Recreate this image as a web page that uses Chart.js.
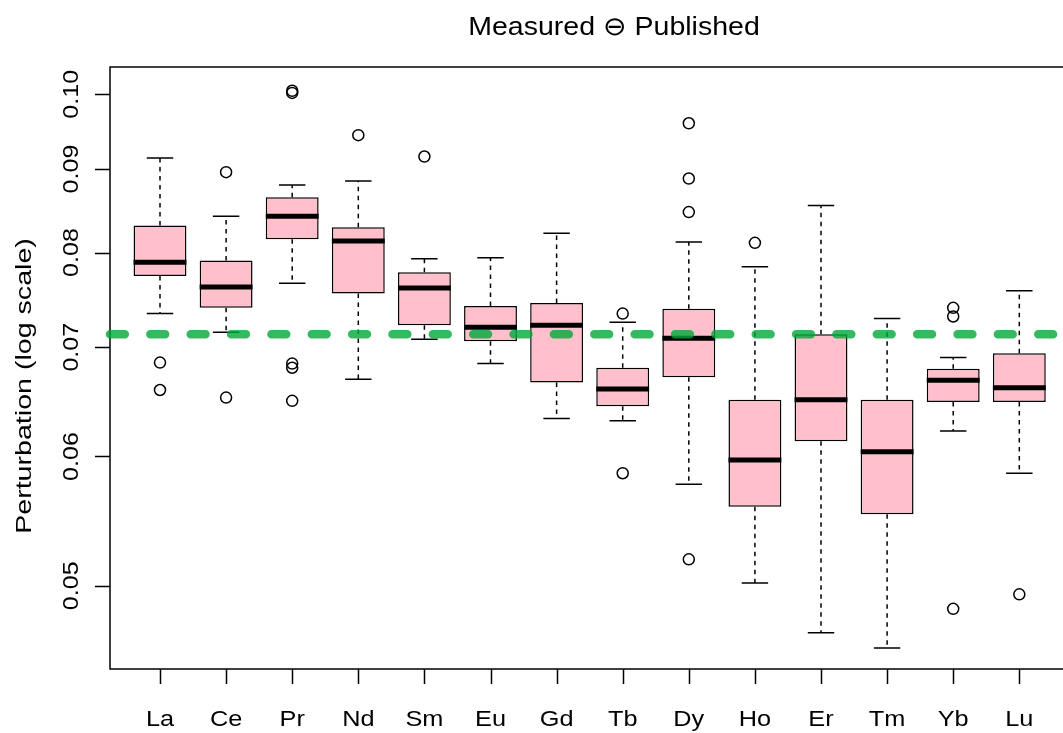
<!DOCTYPE html>
<html>
<head>
<meta charset="utf-8">
<script src="https://cdn.jsdelivr.net/npm/chart.js@4.4.1/dist/chart.umd.min.js"></script>
<style>
  html, body { margin: 0; padding: 0; background: #fff; overflow: hidden; }
  #wrap { width: 1063px; height: 733px; overflow: hidden; position: relative; background: #fff; }
  canvas { display: block; }
</style>
</head>
<body>
<div id="wrap"><canvas id="chart" width="1130" height="733" style="width:1130px;height:733px"></canvas></div>
<script>
// Rare earth elements on the x axis
const elements = ['La', 'Ce', 'Pr', 'Nd', 'Sm', 'Eu', 'Gd', 'Tb', 'Dy', 'Ho', 'Er', 'Tm', 'Yb', 'Lu'];

// Five-number summaries per element
const lowerWhisker = [0.0734, 0.0715, 0.0766, 0.0669, 0.0708, 0.0684, 0.0633, 0.0631, 0.0577, 0.0502, 0.0468, 0.0458, 0.0622, 0.0586];
const q1           = [0.0774, 0.0740, 0.0815, 0.0755, 0.0722, 0.0706, 0.0666, 0.0644, 0.0671, 0.0559, 0.0613, 0.0553, 0.0648, 0.0648];
const median       = [0.0789, 0.0762, 0.0842, 0.0813, 0.0761, 0.0720, 0.0722, 0.0660, 0.0709, 0.0597, 0.0650, 0.0604, 0.0668, 0.0661];
const q3           = [0.0831, 0.0791, 0.0865, 0.0829, 0.0778, 0.0742, 0.0745, 0.0680, 0.0739, 0.0650, 0.0713, 0.0650, 0.0679, 0.0694];
const upperWhisker = [0.0914, 0.0842, 0.0880, 0.0885, 0.0793, 0.0794, 0.0822, 0.0725, 0.0812, 0.0784, 0.0855, 0.0729, 0.0690, 0.0758];

// Points beyond the whiskers
const outliers = [
  [0.0685, 0.0659],
  [0.0896, 0.0652],
  [0.1005, 0.1002, 0.0684, 0.0680, 0.0649],
  [0.0944],
  [0.0916],
  [],
  [],
  [0.0734, 0.0586],
  [0.0960, 0.0888, 0.0847, 0.0519],
  [0.0811],
  [],
  [],
  [0.0740, 0.0731, 0.0484],
  [0.0494]
];

// Reference level
const refLevel = 0.0713;

// Axis ticks and texts
const yTicks = [0.05, 0.06, 0.07, 0.08, 0.09, 0.10];
const xRange = [-0.7564, 14.493];
const yRange = [0.04446, 0.10393];
const titleText = 'Measured \u2296 Published';
const yTitleText = 'Perturbation (log scale)';

const FONT = '"Liberation Sans", Arial, Helvetica, sans-serif';
const positions = elements.map((_, i) => i);

const boxData = positions.map(i => ({ x: i, y: [q1[i], q3[i]] }));
const outlierData = [];
outliers.forEach((vals, i) => vals.forEach(v => outlierData.push({ x: i, y: v })));
const refData = [{ x: xRange[0], y: refLevel }, { x: xRange[1], y: refLevel }];

// Writes text at (x, y), optionally rotated, widened along its reading direction
function drawText(ctx, text, x, y, size, widen, rotate) {
  ctx.save();
  ctx.translate(x, y);
  if (rotate) ctx.rotate(-Math.PI / 2);
  ctx.scale(widen, 1);
  ctx.font = size + 'px ' + FONT;
  ctx.fillText(text, 0, 0);
  ctx.restore();
}

// Frame, tick marks and texts in base-graphics style
const frameAxes = {
  id: 'frameAxes',
  beforeDatasetsDraw(chart) {
    const { ctx, chartArea: a, scales: { x, y } } = chart;
    ctx.save();
    ctx.strokeStyle = '#000';
    ctx.lineWidth = 1.5;
    ctx.strokeRect(a.left, a.top, a.right - a.left, a.bottom - a.top);
    ctx.beginPath();
    yTicks.forEach(v => {
      const py = Math.round(y.getPixelForValue(v)) + 0.5;
      ctx.moveTo(a.left - 15, py);
      ctx.lineTo(a.left, py);
    });
    positions.forEach(i => {
      const px = Math.round(x.getPixelForValue(i)) + 0.5;
      ctx.moveTo(px, a.bottom);
      ctx.lineTo(px, a.bottom + 15);
    });
    ctx.stroke();

    ctx.fillStyle = '#000';
    ctx.textAlign = 'center';
    ctx.textBaseline = 'alphabetic';
    elements.forEach((s, i) => drawText(ctx, s, x.getPixelForValue(i), 726, 22, 1.15, false));
    yTicks.forEach(v => drawText(ctx, v.toFixed(2), 77.5, y.getPixelForValue(v), 22, 1.14, true));
    drawText(ctx, yTitleText, 31, 386, 22, 1.3, true);
    drawText(ctx, titleText, (a.left + a.right) / 2, 35, 26.4, 1.08, false);
    ctx.restore();
  }
};

// Whiskers, caps and medians on top of the boxes
const whiskers = {
  id: 'whiskers',
  afterDatasetDraw(chart, args) {
    if (args.index !== 0) return;
    const { ctx, scales: { y } } = chart;
    ctx.save();
    ctx.strokeStyle = '#000';
    args.meta.data.forEach((bar, i) => {
      const cx = bar.x;
      const w = bar.width;
      const yUp = y.getPixelForValue(upperWhisker[i]);
      const yLo = y.getPixelForValue(lowerWhisker[i]);
      const yQ1 = y.getPixelForValue(q1[i]);
      const yQ3 = y.getPixelForValue(q3[i]);
      const yMed = y.getPixelForValue(median[i]);

      ctx.lineWidth = 1.5;
      ctx.setLineDash([4.5, 4.5]);
      ctx.beginPath();
      ctx.moveTo(cx, yQ3); ctx.lineTo(cx, yUp);
      ctx.moveTo(cx, yQ1); ctx.lineTo(cx, yLo);
      ctx.stroke();

      ctx.setLineDash([]);
      ctx.beginPath();
      ctx.moveTo(cx - w / 4, yUp); ctx.lineTo(cx + w / 4, yUp);
      ctx.moveTo(cx - w / 4, yLo); ctx.lineTo(cx + w / 4, yLo);
      ctx.stroke();

      ctx.lineWidth = 5;
      ctx.beginPath();
      ctx.moveTo(cx - w / 2, yMed); ctx.lineTo(cx + w / 2, yMed);
      ctx.stroke();
    });
    ctx.restore();
  }
};

new Chart(document.getElementById('chart'), {
  type: 'bar',
  data: {
    datasets: [
      {
        type: 'bar',
        data: boxData,
        backgroundColor: '#FFC0CB',
        borderColor: '#000',
        borderWidth: 1.5,
        borderSkipped: false,
        barPercentage: 0.8,
        categoryPercentage: 1.0,
        order: 3
      },
      {
        type: 'scatter',
        data: outlierData,
        pointStyle: 'circle',
        pointRadius: 5.5,
        pointBorderWidth: 1.5,
        pointBorderColor: '#000',
        pointBackgroundColor: 'rgba(0,0,0,0)',
        order: 2
      },
      {
        type: 'line',
        data: refData,
        borderColor: 'rgba(0,168,55,0.8)',
        borderWidth: 8.5,
        borderDash: [14.8, 25.56],
        borderCapStyle: 'round',
        pointRadius: 0,
        fill: false,
        clip: false,
        order: 1
      }
    ]
  },
  options: {
    responsive: false,
    animation: false,
    events: [],
    layout: { padding: { left: 110, right: 12, top: 67, bottom: 64 } },
    plugins: { legend: { display: false }, tooltip: { enabled: false }, title: { display: false } },
    scales: {
      x: { type: 'linear', offset: false, min: xRange[0], max: xRange[1], display: false },
      y: { type: 'logarithmic', min: yRange[0], max: yRange[1], display: false }
    }
  },
  plugins: [frameAxes, whiskers]
});
</script>
</body>
</html>
